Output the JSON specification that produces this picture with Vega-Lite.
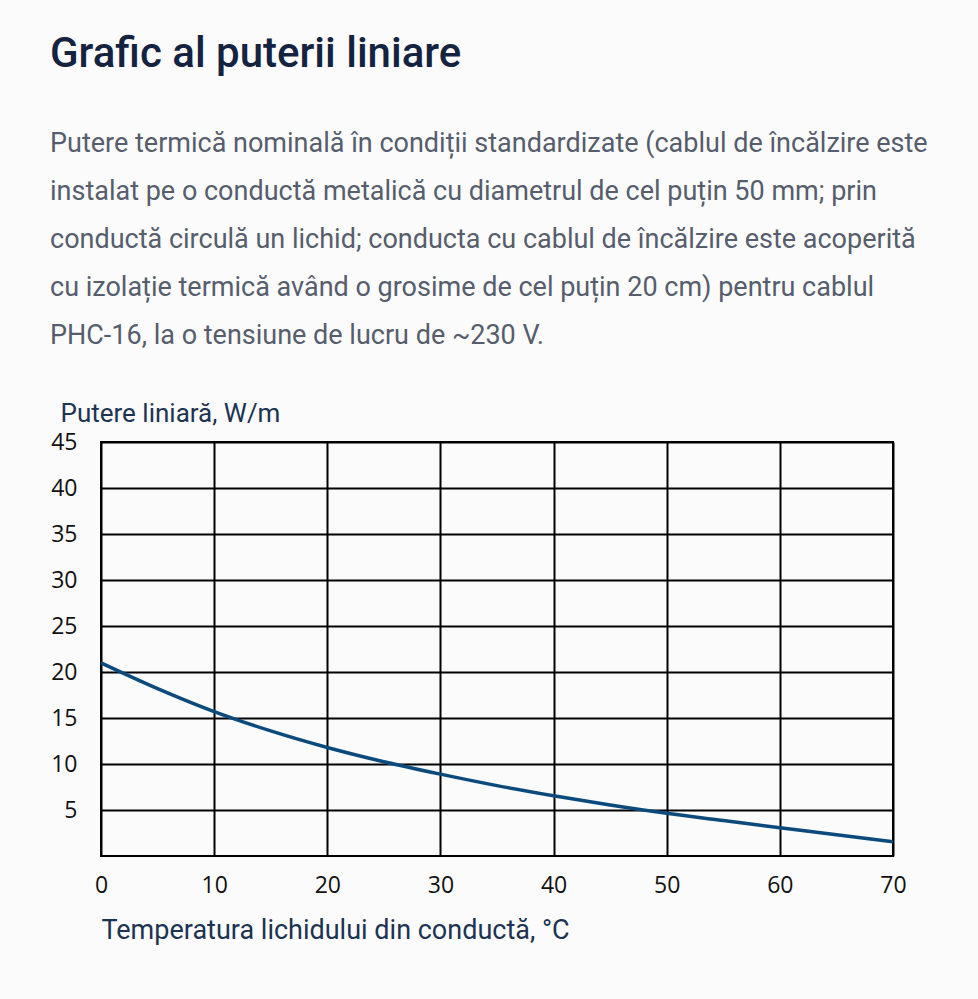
{
  "$schema": "https://vega.github.io/schema/vega-lite/v6.json",
  "width": 792,
  "height": 414,
  "autosize": "none",
  "padding": {"left": 101, "top": 442, "right": 85, "bottom": 143},
  "background": "#fbfbfb",
  "title": {
    "text": "Grafic al puterii liniare",
    "subtitle": [
      "Putere termică nominală în condiții standardizate (cablul de încălzire este",
      "instalat pe o conductă metalică cu diametrul de cel puțin 50 mm; prin",
      "conductă circulă un lichid; conducta cu cablul de încălzire este acoperită",
      "cu izolație termică având o grosime de cel puțin 20 cm) pentru cablul",
      "PHC-16, la o tensiune de lucru de ~230 V."
    ],
    "anchor": "start",
    "frame": "group",
    "dx": -51,
    "offset": 50,
    "font": "Roboto",
    "fontSize": 42,
    "fontWeight": 500,
    "color": "#14233f",
    "subtitleFont": "Roboto",
    "subtitleFontSize": 27,
    "subtitleColor": "#565d6c",
    "subtitleLineHeight": 48,
    "subtitlePadding": 55
  },
  "config": {
    "view": {"stroke": "#000000", "strokeWidth": 2},
    "axis": {
      "labelFont": "Open Sans",
      "labelFontSize": 23,
      "labelColor": "#111111",
      "ticks": false,
      "domain": false,
      "gridColor": "#000000",
      "gridWidth": 2,
      "gridOpacity": 1,
      "titleFont": "Roboto",
      "titleFontSize": 26,
      "titleFontWeight": "normal",
      "titleColor": "#1c3352"
    }
  },
  "data": {
    "values": [
      {"temp": 0, "power": 21.0},
      {"temp": 5, "power": 18.2},
      {"temp": 10, "power": 15.7},
      {"temp": 15, "power": 13.6},
      {"temp": 20, "power": 11.8},
      {"temp": 25, "power": 10.25},
      {"temp": 30, "power": 8.9},
      {"temp": 35, "power": 7.65},
      {"temp": 40, "power": 6.55},
      {"temp": 45, "power": 5.55},
      {"temp": 50, "power": 4.64},
      {"temp": 55, "power": 3.85},
      {"temp": 60, "power": 3.08},
      {"temp": 65, "power": 2.3},
      {"temp": 70, "power": 1.55}
    ]
  },
  "mark": {"type": "line", "interpolate": "monotone", "color": "#0b4a7c", "strokeWidth": 3.5},
  "encoding": {
    "x": {
      "field": "temp",
      "type": "quantitative",
      "title": "Temperatura lichidului din conductă, °C",
      "scale": {"domain": [0, 70], "nice": false},
      "axis": {
        "values": [0, 10, 20, 30, 40, 50, 60, 70],
        "labelPadding": 18,
        "labelFlush": false,
        "titleAnchor": "start",
        "titleAlign": "left",
        "titleFontSize": 27,
        "titlePadding": 20
      }
    },
    "y": {
      "field": "power",
      "type": "quantitative",
      "title": "Putere liniară, W/m",
      "scale": {"domain": [0, 45], "nice": false},
      "axis": {
        "values": [5, 10, 15, 20, 25, 30, 35, 40, 45],
        "labelPadding": 24,
        "labelFlush": false,
        "titleAngle": 0,
        "titleAlign": "left",
        "titleBaseline": "alphabetic",
        "titleX": -41,
        "titleY": -21
      }
    }
  }
}
